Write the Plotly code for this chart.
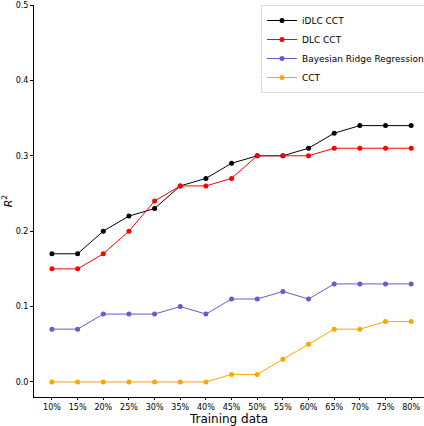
import plotly.graph_objects as go

# training fraction on the x axis
training = ["10%", "15%", "20%", "25%", "30%", "35%", "40%", "45%",
            "50%", "55%", "60%", "65%", "70%", "75%", "80%"]

idlc_cct = [0.17, 0.17, 0.20, 0.22, 0.23, 0.26, 0.27, 0.29,
            0.30, 0.30, 0.31, 0.33, 0.34, 0.34, 0.34]
dlc_cct = [0.15, 0.15, 0.17, 0.20, 0.24, 0.26, 0.26, 0.27,
           0.30, 0.30, 0.30, 0.31, 0.31, 0.31, 0.31]
bayes_ridge = [0.07, 0.07, 0.09, 0.09, 0.09, 0.10, 0.09, 0.11,
               0.11, 0.12, 0.11, 0.13, 0.13, 0.13, 0.13]
cct = [0.00, 0.00, 0.00, 0.00, 0.00, 0.00, 0.00, 0.01,
       0.01, 0.03, 0.05, 0.07, 0.07, 0.08, 0.08]

series = [
    ("iDLC CCT", idlc_cct, "black"),
    ("DLC CCT", dlc_cct, "red"),
    ("Bayesian Ridge Regression", bayes_ridge, "#6A5ACD"),
    ("CCT", cct, "orange"),
]

fig = go.Figure()
for name, vals, color in series:
    fig.add_trace(go.Scatter(
        x=list(range(len(training))),
        y=vals,
        mode="lines+markers",
        name=name,
        line=dict(color=color, width=1),
        marker=dict(color=color, size=5),
    ))

fig.update_layout(
    width=424,
    height=426,
    margin=dict(l=34, r=0, t=5, b=29, autoexpand=False),
    plot_bgcolor="white",
    paper_bgcolor="white",
    font=dict(family="DejaVu Sans", size=8, color="black"),
    showlegend=True,
    legend=dict(
        x=0.582, y=1.0, xanchor="left", yanchor="top",
        bgcolor="white",
        bordercolor="#dddddd",
        borderwidth=1,
        font=dict(size=9),
        tracegroupgap=0,
        itemwidth=30,
    ),
    xaxis=dict(
        tickmode="array",
        tickvals=list(range(len(training))),
        ticktext=training,
        range=[-0.7, 14.5],
        showgrid=False,
        zeroline=False,
        showline=True,
        linecolor="black",
        linewidth=1,
        ticks="outside",
        ticklen=2,
        tickcolor="black",
        title=dict(text="Training data", font=dict(size=12), standoff=0),
    ),
    yaxis=dict(
        range=[-0.02, 0.5],
        tickvals=[0.0, 0.1, 0.2, 0.3, 0.4, 0.5],
        tickformat=".1f",
        showgrid=False,
        zeroline=False,
        showline=True,
        linecolor="black",
        linewidth=1,
        ticks="outside",
        ticklen=3,
        tickcolor="black",
        title=dict(text="<i>R</i><sup>2</sup>", font=dict(size=11), standoff=2),
    ),
)

# drop the browser's default page margin so the figure sits at the corner
fig.write_html("out.html", config={"displayModeBar": False},
               post_script="document.body.style.margin='0';")
